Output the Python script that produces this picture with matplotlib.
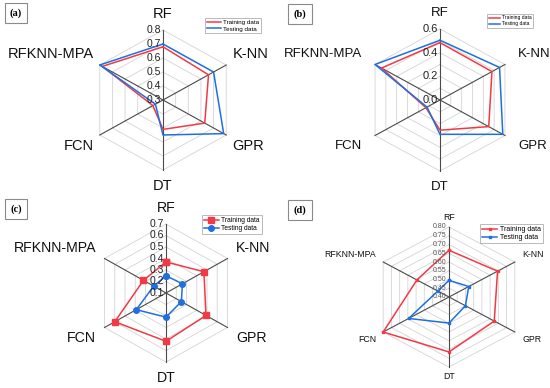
import numpy as np
import matplotlib
matplotlib.use('Agg')
import matplotlib.pyplot as plt

plt.rcParams['font.family'] = ['Liberation Sans', 'DejaVu Sans']

# axis order, clockwise from the top
categories = ['RF', 'K-NN', 'GPR', 'DT', 'FCN', 'RFKNN-MPA']

# (a)
a_train = [0.68, 0.66, 0.63, 0.51, 0.38, 0.78]
a_test = [0.70, 0.70, 0.78, 0.55, 0.36, 0.80]
a_ticks = [0.3, 0.4, 0.5, 0.6, 0.7, 0.8]
a_ticklabels = ['0.3', '0.4', '0.5', '0.6', '0.7', '0.8']

# (b)
b_train = [0.485, 0.48, 0.45, 0.255, 0.13, 0.54]
b_test = [0.505, 0.55, 0.58, 0.29, 0.12, 0.60]
b_rings = [0.0, 0.1, 0.2, 0.3, 0.4, 0.5, 0.6]
b_ticks = [0.0, 0.2, 0.4, 0.6]
b_ticklabels = ['0.0', '0.2', '0.4', '0.6']

# (c)
c_train = [0.37, 0.47, 0.49, 0.52, 0.60, 0.32]
c_test = [0.25, 0.26, 0.25, 0.31, 0.39, 0.22]
c_ticks = [0.1, 0.2, 0.3, 0.4, 0.5, 0.6, 0.7]
c_ticklabels = ['0.1', '0.2', '0.3', '0.4', '0.5', '0.6', '0.7']

# (d)
d_train = [0.667, 0.695, 0.675, 0.714, 0.80, 0.595]
d_test = [0.495, 0.52, 0.50, 0.549, 0.645, 0.468]
d_ticks = [0.40, 0.45, 0.50, 0.55, 0.60, 0.65, 0.70, 0.75, 0.80]
d_ticklabels = ['0.40', '0.45', '0.50', '0.55', '0.60', '0.65', '0.70', '0.75', '0.80']

RED = '#f23a45'
BLUE = '#1f6fe0'

W, H = 550, 388
PW, PH = 275, 194

fig = plt.figure(figsize=(5.5, 3.88), dpi=100)

# angles: RF at top, going clockwise
angles = np.deg2rad(90 - 60 * np.arange(len(categories)))


def radar(col, row, cx, cy, rx, ry, vmin, vmax, rings, ticks, ticklabels,
          train, test, label_fs, tick_fs, lab_x, lab_y, marker_kw, leg_xy,
          leg_fs, tag, tag_xy, tick_color='#222222'):
    ax = fig.add_axes([col * PW / W, 1 - (row + 1) * PH / H, PW / W, PH / H])
    ax.set_xlim(-cx / rx, (PW - cx) / rx)
    ax.set_ylim(-(PH - cy) / ry, cy / ry)
    ax.axis('off')

    cosa = np.cos(angles)
    sina = np.sin(angles)
    closed_c = np.append(cosa, cosa[0])
    closed_s = np.append(sina, sina[0])

    # hexagon rings
    for v in rings:
        n = (v - vmin) / (vmax - vmin)
        ax.plot(n * closed_c, n * closed_s, color='#d4d4d4', lw=0.6, zorder=1)
    # spokes
    for k in range(3):
        ax.plot([cosa[k], cosa[k + 3]], [sina[k], sina[k + 3]],
                color='#4a4a4a', lw=0.8, zorder=2)

    for vals, color, lab, mk in [(train, RED, 'Training data', marker_kw[0]),
                                 (test, BLUE, 'Testing data', marker_kw[1])]:
        n = (np.array(vals) - vmin) / (vmax - vmin)
        n = np.append(n, n[0])
        ax.plot(n * closed_c, n * closed_s, color=color, lw=1.1, label=lab,
                zorder=3, **mk)

    for v, t in zip(ticks, ticklabels):
        n = (v - vmin) / (vmax - vmin)
        ax.text(-0.03, n, t, ha='right', va='center', fontsize=tick_fs,
                color=tick_color, zorder=4)

    for name, c, s in zip(categories, cosa, sina):
        if abs(c) < 1e-6:
            ha = 'center'
            y = lab_y * s
        elif c > 0:
            ha = 'left'
            y = lab_y * 1.07 * s
        else:
            ha = 'right'
            y = lab_y * 1.07 * s
        ax.text(lab_x * c, y, name, ha=ha, va='center',
                fontsize=label_fs, color='#111111')

    leg = ax.legend(loc='upper left',
                    bbox_to_anchor=(leg_xy[0] / PW, 1 - leg_xy[1] / PH),
                    fontsize=leg_fs, frameon=True, fancybox=False,
                    handlelength=2.2, borderpad=0.3, labelspacing=0.15,
                    handletextpad=0.4, borderaxespad=0)
    leg.get_frame().set_edgecolor('#9a9a9a')
    leg.get_frame().set_linewidth(0.6)

    ax.text(tag_xy[0] / PW, 1 - tag_xy[1] / PH, tag, transform=ax.transAxes,
            ha='center', va='center', fontsize=7.5, fontweight='bold',
            family='Liberation Serif',
            bbox=dict(boxstyle='square,pad=0.5', fc='white', ec='#8a8a8a',
                      lw=0.8))


no_marker = [{}, {}]

radar(0, 0, 163, 100, 73, 70, 0.3, 0.8, a_ticks, a_ticks, a_ticklabels,
      a_train, a_test, 10.5, 7.5, 1.1, 1.23, no_marker, (205, 18), 4.5,
      '(a)', (16, 13))

radar(1, 0, 165, 100, 75, 71, 0.0, 0.6, b_rings, b_ticks, b_ticklabels,
      b_train, b_test, 9.5, 8, 1.2, 1.22, no_marker, (212, 14), 3.6,
      '(b)', (25, 14))

radar(0, 1, 166, 99, 71, 69, 0.1, 0.7, c_ticks, c_ticks, c_ticklabels,
      c_train, c_test, 10.2, 7.5, 1.14, 1.23,
      [dict(marker='s', ms=4), dict(marker='o', ms=4)], (202, 21), 4.8,
      '(c)', (16, 15))

radar(1, 1, 174, 103, 76, 70, 0.40, 0.80, d_ticks, d_ticks, d_ticklabels,
      d_train, d_test, 6.3, 5, 1.11, 1.14,
      [dict(marker='s', ms=2), dict(marker='s', ms=2)], (205, 30), 5,
      '(d)', (25, 16), tick_color='#555555')

fig.savefig('out.png', dpi=100)
